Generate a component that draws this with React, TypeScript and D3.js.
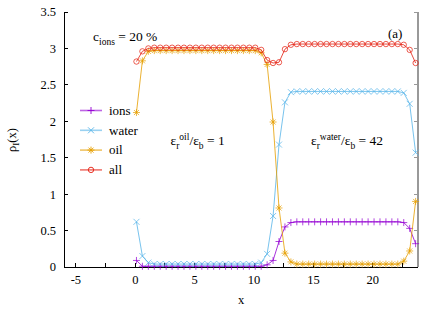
import React, { useEffect, useRef } from 'react';
import * as d3 from 'd3';

// sample positions along x
const xs = [
  0.1, 0.6, 1.1, 1.6, 2.1, 2.6, 3.1, 3.6, 4.1, 4.6, 5.1, 5.6, 6.1, 6.6, 7.1, 7.6,
  8.1, 8.6, 9.1, 9.6, 10.1, 10.6, 11.1, 11.6, 12.1, 12.6, 13.1, 13.6, 14.1, 14.6,
  15.1, 15.6, 16.1, 16.6, 17.1, 17.6, 18.1, 18.6, 19.1, 19.6, 20.1, 20.6, 21.1,
  21.6, 22.1, 22.6, 23.1, 23.6,
];
const ions = [
  0.09, 0.01, 0.01, 0.01, 0.01, 0.01, 0.01, 0.01, 0.01, 0.01, 0.01, 0.01, 0.01, 0.01,
  0.01, 0.01, 0.01, 0.01, 0.01, 0.01, 0.01, 0.01, 0.03, 0.09, 0.35, 0.55, 0.61, 0.62,
  0.62, 0.62, 0.62, 0.62, 0.62, 0.62, 0.62, 0.62, 0.62, 0.62, 0.62, 0.62, 0.62, 0.62,
  0.62, 0.62, 0.62, 0.61, 0.53, 0.32,
];
const water = [
  0.62, 0.15, 0.06, 0.04, 0.04, 0.04, 0.04, 0.04, 0.04, 0.04, 0.04, 0.04, 0.04, 0.04,
  0.04, 0.04, 0.04, 0.04, 0.04, 0.04, 0.04, 0.06, 0.18, 0.70, 1.68, 2.26, 2.40, 2.41,
  2.41, 2.41, 2.41, 2.41, 2.41, 2.41, 2.41, 2.41, 2.41, 2.41, 2.41, 2.41, 2.41, 2.41,
  2.41, 2.41, 2.41, 2.39, 2.24, 1.57,
];
const oil = [
  2.12, 2.83, 2.96, 2.97, 2.97, 2.97, 2.97, 2.97, 2.97, 2.97, 2.97, 2.97, 2.97, 2.97,
  2.97, 2.97, 2.97, 2.97, 2.97, 2.97, 2.97, 2.94, 2.78, 1.99, 0.81, 0.19, 0.07, 0.04,
  0.04, 0.04, 0.04, 0.04, 0.04, 0.04, 0.04, 0.04, 0.04, 0.04, 0.04, 0.04, 0.04, 0.04,
  0.04, 0.04, 0.04, 0.08, 0.22, 0.90,
];
const all = [
  2.82, 2.96, 3.00, 3.01, 3.01, 3.01, 3.01, 3.01, 3.01, 3.01, 3.01, 3.01, 3.01, 3.01,
  3.01, 3.01, 3.01, 3.01, 3.01, 3.01, 3.01, 2.98, 2.84, 2.80, 2.81, 2.99, 3.05, 3.06,
  3.06, 3.06, 3.06, 3.06, 3.06, 3.06, 3.06, 3.06, 3.06, 3.06, 3.06, 3.06, 3.06, 3.06,
  3.06, 3.06, 3.06, 3.05, 2.98, 2.80,
];
const seriesNames = ['ions', 'water', 'oil', 'all'];
const seriesColors = ['#9400d3', '#56b4e9', '#e69f00', '#e51e10'];
const xTicks = [-5, 0, 5, 10, 15, 20];
const xMinorTicks = [-5, -2.5, 0, 2.5, 5, 7.5, 10, 12.5, 15, 17.5, 20, 22.5];
const yTicks = [0, 0.5, 1, 1.5, 2, 2.5, 3, 3.5];

const markerPath: Record<string, string> = {
  ions: 'M-3.5,0H3.5M0,-3.5V3.5',
  water: 'M-3,-3L3,3M-3,3L3,-3',
  oil: 'M-3.5,0H3.5M0,-3.5V3.5M-2.5,-2.5L2.5,2.5M-2.5,2.5L2.5,-2.5',
};

const FONT = 'Liberation Serif';

const App: React.FC = () => {
  const ref = useRef<SVGSVGElement>(null);

  useEffect(() => {
    const W = 443, H = 309;
    const margin = { top: 12, right: 25, bottom: 42, left: 64 };
    const svg = d3.select(ref.current);
    svg.selectAll('*').remove();

    const x = d3.scaleLinear().domain([-6, 23.8]).range([margin.left, W - margin.right]);
    const y = d3.scaleLinear().domain([0, 3.5]).range([H - margin.bottom, margin.top]);
    const x0 = margin.left, x1 = W - margin.right, y0 = H - margin.bottom, y1 = margin.top;

    // ticks (inward)
    const ticks = svg.append('g').attr('shape-rendering', 'crispEdges');
    ticks.append('g').selectAll('line').data(yTicks).join('line')
      .attr('x1', x0).attr('x2', x0 + 4)
      .attr('y1', d => y(d)).attr('y2', d => y(d))
      .attr('stroke', '#000');
    ticks.append('g').selectAll('line').data(yTicks).join('line')
      .attr('x1', x1 - 4).attr('x2', x1)
      .attr('y1', d => y(d)).attr('y2', d => y(d))
      .attr('stroke', '#999');
    ticks.append('g').selectAll('line').data(xMinorTicks).join('line')
      .attr('x1', d => x(d)).attr('x2', d => x(d))
      .attr('y1', y0).attr('y2', y0 - 4)
      .attr('stroke', '#000');

    // frame
    svg.append('line').attr('x1', x0).attr('x2', x0).attr('y1', y1).attr('y2', y0)
      .attr('stroke', '#000').attr('shape-rendering', 'crispEdges');
    svg.append('line').attr('x1', x0).attr('x2', x1).attr('y1', y0).attr('y2', y0)
      .attr('stroke', '#000').attr('shape-rendering', 'crispEdges');
    svg.append('line').attr('x1', x1).attr('x2', x1).attr('y1', y1).attr('y2', y0)
      .attr('stroke', '#999').attr('stroke-width', 2);

    // tick labels
    svg.append('g').selectAll('text').data(yTicks).join('text')
      .attr('x', 56).attr('y', d => y(d)).attr('dy', '0.35em')
      .attr('text-anchor', 'end').attr('font-size', 12.5)
      .text(d => String(d));
    svg.append('g').selectAll('text').data(xTicks).join('text')
      .attr('x', d => x(d)).attr('y', 284)
      .attr('text-anchor', 'middle').attr('font-size', 12.5)
      .text(d => (d < 0 ? '-' + Math.abs(d) : String(d)));

    // axis titles
    svg.append('text').attr('x', (x0 + x1) / 2).attr('y', 304)
      .attr('text-anchor', 'middle').attr('font-size', 12.5)
      .text('x');
    const yl = svg.append('text')
      .attr('transform', 'translate(16,140) rotate(-90)')
      .attr('text-anchor', 'middle').attr('font-size', 12.5);
    yl.append('tspan').text('ρ');
    yl.append('tspan').attr('dy', 3).attr('font-size', 9).text('I');
    yl.append('tspan').attr('dy', -3).text('(x)');

    // series
    const data = [ions, water, oil, all];
    const line = d3.line<[number, number]>().x(d => x(d[0])).y(d => y(d[1]));
    data.forEach((vals, i) => {
      const name = seriesNames[i];
      const col = seriesColors[i];
      const pts: [number, number][] = xs.map((xv, j) => [xv, vals[j]]);
      const g = svg.append('g');
      g.append('path').attr('d', line(pts)).attr('fill', 'none')
        .attr('stroke', col).attr('stroke-width', 1).attr('opacity', 0.8);
      if (name === 'all') {
        g.selectAll('circle').data(pts).join('circle')
          .attr('cx', d => x(d[0])).attr('cy', d => y(d[1])).attr('r', 2.7)
          .attr('fill', 'none').attr('stroke', col).attr('stroke-width', 0.9).attr('opacity', 0.8);
      } else {
        g.selectAll('path.m').data(pts).join('path')
          .attr('class', 'm')
          .attr('transform', d => `translate(${x(d[0])},${y(d[1])})`)
          .attr('d', markerPath[name]).attr('fill', 'none')
          .attr('stroke', col).attr('stroke-width', 0.9).attr('opacity', 0.8);
      }
    });

    // legend
    const legend = svg.append('g').selectAll('g').data(seriesNames).join('g')
      .attr('transform', (d, i) => `translate(0,${110.5 + i * 19.8})`);
    legend.append('line').attr('x1', 80).attr('x2', 102).attr('y1', 0).attr('y2', 0)
      .attr('stroke', (d, i) => seriesColors[i]).attr('stroke-width', 1.6).attr('opacity', 0.6);
    legend.each(function (d) {
      const g = d3.select(this);
      const col = seriesColors[seriesNames.indexOf(d)];
      if (d === 'all') {
        g.append('circle').attr('cx', 91).attr('cy', 0).attr('r', 2.7)
          .attr('fill', 'none').attr('stroke', col).attr('stroke-width', 0.9);
      } else {
        g.append('path').attr('transform', 'translate(91,0)').attr('d', markerPath[d])
          .attr('fill', 'none').attr('stroke', col).attr('stroke-width', 0.9);
      }
    });
    legend.append('text').attr('x', 109).attr('y', 0).attr('dy', '0.33em')
      .attr('font-size', 13).text(d => d);

    // annotations
    const c = svg.append('text').attr('x', 93).attr('y', 41).attr('font-size', 13.5);
    c.append('tspan').text('c');
    c.append('tspan').attr('dy', 3.5).attr('font-size', 9.5).text('ions');
    c.append('tspan').attr('dy', -3.5).text(' = 20 %');

    const eps = (x0t: number, sup: string, val: string) => {
      const t = svg.append('text').attr('x', x0t).attr('y', 145).attr('font-size', 13.5);
      t.append('tspan').text('ε');
      t.append('tspan').attr('dy', 3.5).attr('font-size', 9.5).text('r');
      t.append('tspan').attr('dy', -9).attr('font-size', 9.5).text(sup);
      t.append('tspan').attr('dy', 5.5).text('/ε');
      t.append('tspan').attr('dy', 3.5).attr('font-size', 9.5).text('b');
      t.append('tspan').attr('dy', -3.5).text(' = ' + val);
    };
    eps(170.5, 'oil', '1');
    eps(311, 'water', '42');

    svg.append('text').attr('x', 388).attr('y', 38).attr('font-size', 13).text('(a)');

    // apply the serif face to every text node directly
    svg.selectAll('text').style('font-family', FONT);
  }, []);

  return (
    <div style={{ position: 'fixed', left: 0, top: 0 }}>
      <svg ref={ref} width={443} height={309} style={{ display: 'block', background: '#fff' }} />
    </div>
  );
};

export default App;
